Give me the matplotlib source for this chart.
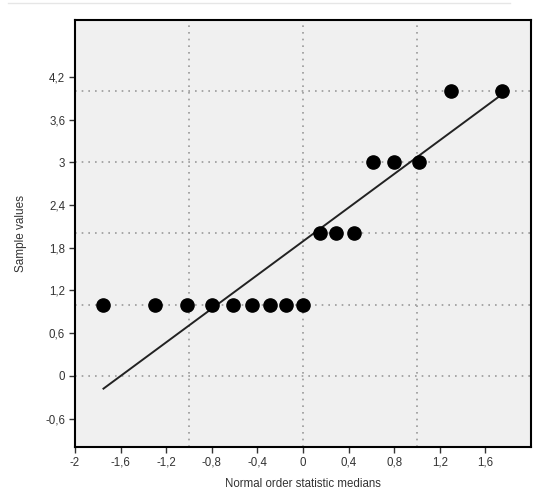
import numpy as np
import matplotlib.pyplot as plt
from matplotlib.lines import Line2D

# normal order statistic medians (x) and sample values (y)
osm = [-1.75, -1.30, -1.02, -0.80, -0.61, -0.45, -0.29, -0.15, 0.0,
       0.15, 0.29, 0.45, 0.61, 0.80, 1.02, 1.30, 1.75]
sample = [1, 1, 1, 1, 1, 1, 1, 1, 1,
          2, 2, 2, 3, 3, 3, 4, 4]

# fitted line end points
fit_x = [-1.75, 1.75]
fit_y = [-0.18, 3.96]

xticks = [-2, -1.6, -1.2, -0.8, -0.4, 0, 0.4, 0.8, 1.2, 1.6]
yticks = [-0.6, 0, 0.6, 1.2, 1.8, 2.4, 3, 3.6, 4.2]
xgrid = [-1, 0, 1]
ygrid = [0, 1, 2, 3, 4]


def comma(v):
    s = ('%g' % v).replace('.', ',')
    return s


plt.rcParams['font.family'] = ['Liberation Sans', 'DejaVu Sans']

fig = plt.figure(figsize=(5.57, 4.95), dpi=100)
ax = fig.add_axes([0.1346, 0.097, 0.8187, 0.8626])
ax.set_facecolor('#f0f0f0')

for gx in xgrid:
    ax.axvline(gx, color='#9a9a9a', linestyle=(0, (1, 3)), linewidth=1.2, zorder=1)
for gy in ygrid:
    ax.axhline(gy, color='#9a9a9a', linestyle=(0, (1, 3)), linewidth=1.2, zorder=1)

ax.plot(fit_x, fit_y, color='#222222', linewidth=1.4, zorder=2)
ax.plot(osm, sample, 'o', color='black', markersize=9.5, zorder=3)

ax.set_xlim(-2, 2)
ax.set_ylim(-1, 5)
ax.set_xticks(xticks)
ax.set_xticklabels([comma(v) for v in xticks])
ax.set_yticks(yticks)
ax.set_yticklabels([comma(v) for v in yticks])
ax.tick_params(direction='out', length=4, width=1, colors='#333333',
               labelsize=8.3, pad=3)

for s in ax.spines.values():
    s.set_linewidth(1.5)
    s.set_color('black')

ax.set_xlabel('Normal order statistic medians', fontsize=8.3, color='#333333', labelpad=7)
ax.set_ylabel('Sample values', fontsize=8.5, color='#333333', labelpad=13)

# faint frame line at the top
fig.add_artist(Line2D([8 / 557, 510 / 557], [1 - 3 / 495, 1 - 3 / 495],
                      color='#e6e6e6', linewidth=1))

fig.savefig('out.png', dpi=100)
